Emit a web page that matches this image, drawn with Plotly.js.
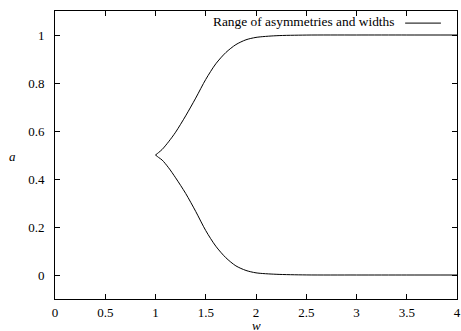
<!DOCTYPE html>
<html>
<head>
<meta charset="utf-8">
<script src="https://cdn.plot.ly/plotly-3.0.1.min.js"></script>
<style>html,body{margin:0;padding:0;background:#fff;}#chart{width:461px;height:331px;}</style>
</head>
<body>
<div id="chart"></div>
<script>
// Widths w and the two branches of asymmetry a
const wValues = [1.0, 1.03, 1.066, 1.13, 1.2, 1.3, 1.4, 1.5, 1.6, 1.7, 1.8, 1.9, 2.0, 2.2, 2.5, 3.0, 3.5, 4.0];
const aUpper  = [0.5, 0.51, 0.523, 0.555, 0.595, 0.663, 0.737, 0.815, 0.88, 0.927, 0.96, 0.98, 0.99, 0.997, 0.9997, 1.0, 1.0, 1.0];
const aLower  = [0.5, 0.49, 0.479, 0.447, 0.405, 0.34, 0.265, 0.185, 0.12, 0.072, 0.038, 0.019, 0.009, 0.003, 0.0003, 0.0, 0.0, 0.0];
const seriesName = "Range of asymmetries and widths";
const xTicks = [0, 0.5, 1, 1.5, 2, 2.5, 3, 3.5, 4];
const xTickText = ["0", "0.5", "1", "1.5", "2", "2.5", "3", "3.5", "4"];
const yTicks = [0, 0.2, 0.4, 0.6, 0.8, 1];
const yTickText = ["0", "0.2", "0.4", "0.6", "0.8", "1"];

const font = {family: "Liberation Serif", size: 13, color: "#000000"};
const legendFont = {family: "Liberation Serif", size: 13.4, color: "#000000"};

const lineStyle = {color: "#000000", width: 1, shape: "spline", smoothing: 0.8};
const traces = [
  {x: wValues, y: aUpper, mode: "lines", name: seriesName, line: lineStyle, showlegend: false, hoverinfo: "skip"},
  {x: wValues, y: aLower, mode: "lines", name: seriesName, line: lineStyle, showlegend: false, hoverinfo: "skip"}
];

const axisCommon = {
  showline: true, linecolor: "#000000", linewidth: 1, mirror: "ticks",
  ticks: "inside", ticklen: 5, tickcolor: "#000000", tickwidth: 1,
  showgrid: false, zeroline: false, tickfont: font, tickmode: "array"
};

const layout = {
  width: 461, height: 331,
  margin: {l: 55, r: 4, t: 11, b: 32},
  paper_bgcolor: "#ffffff", plot_bgcolor: "#ffffff",
  font: font,
  xaxis: Object.assign({}, axisCommon, {
    range: [0, 4], tickvals: xTicks, ticktext: xTickText,
    ticklabelstandoff: 1
  }),
  yaxis: Object.assign({}, axisCommon, {
    range: [-0.1, 1.1], tickvals: yTicks, ticktext: yTickText,
    ticklabelstandoff: 7
  }),
  annotations: [
    {xref: "paper", yref: "paper", x: -0.105, y: 0.495, text: "<i>a</i>", showarrow: false,
     xanchor: "center", yanchor: "middle", font: font},
    {xref: "paper", yref: "paper", x: 0.5, y: -0.09, text: "<i>w</i>", showarrow: false,
     xanchor: "center", yanchor: "middle", height: 12, borderpad: 0, font: font},
    {xref: "paper", yref: "paper", x: 0.848, y: 0.962, text: seriesName, showarrow: false,
     xanchor: "right", yanchor: "middle", font: legendFont}
  ],
  shapes: [
    {type: "line", xref: "paper", yref: "paper", x0: 0.871, x1: 0.96, y0: 0.958, y1: 0.958,
     line: {color: "#000000", width: 1}}
  ]
};

Plotly.newPlot("chart", traces, layout, {displayModeBar: false, staticPlot: true});
</script>
</body>
</html>
